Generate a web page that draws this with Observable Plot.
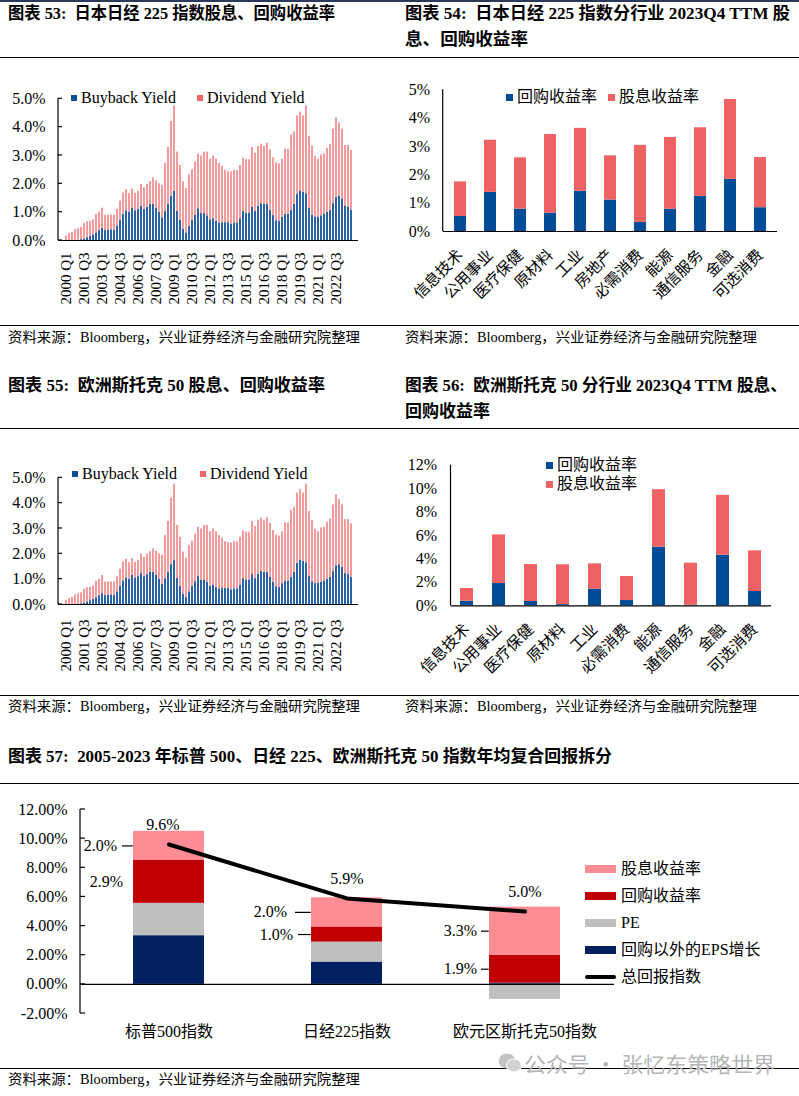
<!DOCTYPE html>
<html lang="zh-CN">
<head>
<meta charset="utf-8">
<script src="https://cdn.jsdelivr.net/npm/d3@7"></script>
<script src="https://cdn.jsdelivr.net/npm/@observablehq/plot@0.6"></script>
<style>
html,body{margin:0;padding:0;background:#fff;}
#page{position:relative;width:799px;height:1096px;overflow:hidden;background:#fff;color:#000;font-family:'Liberation Serif','Noto Sans CJK SC',serif;}
.t{position:absolute;white-space:nowrap;transform-origin:0 50%;}
.title{font-weight:bold;font-size:17px;line-height:22px;height:22px;}
.src{font-size:14px;line-height:18px;height:18px;}
.hr{position:absolute;left:0;width:799px;height:1.5px;background:#000;}
.chart{position:absolute;}
.lg{position:absolute;white-space:nowrap;font-size:16px;line-height:18px;height:18px;display:flex;align-items:center;}
.sq{display:inline-block;width:6px;height:6px;margin-right:4px;}
.bar{display:inline-block;width:31px;height:8px;margin-right:5px;}
</style>
</head>
<body>
<div id="page">
  <div style="position:absolute;left:0;top:0;width:799px;height:1.5px;background:#2b3a5a"></div>

  <div class="t title" style="left:8px;top:3px" data-w="327">图表 53:&nbsp; 日本日经 225 指数股息、回购收益率</div>
  <div class="t title" style="left:405px;top:3px" data-w="385">图表 54:&nbsp; 日本日经 225 指数分行业 2023Q4 TTM 股</div>
  <div class="t title" style="left:405px;top:29px" data-w="123">息、回购收益率</div>
  <div class="hr" style="top:56.5px"></div>

  <div class="chart" id="c53" style="left:0;top:57px"></div>
  <div class="chart" id="c54" style="left:400px;top:57px"></div>

  <div class="lg" style="left:71px;top:89px"><span class="sq" style="background:#0a4f9a"></span>Buyback Yield</div>
  <div class="lg" style="left:197px;top:89px"><span class="sq" style="background:#f06464"></span>Dividend Yield</div>
  <div class="lg" style="left:506px;top:88px"><span class="sq" style="width:7px;height:7px;background:#004c97"></span>回购收益率</div>
  <div class="lg" style="left:608px;top:88px"><span class="sq" style="width:7px;height:7px;background:#ef6264"></span>股息收益率</div>

  <div class="hr" style="top:324.5px"></div>
  <div class="t src" style="left:8px;top:329px" data-w="352">资料来源：Bloomberg，兴业证券经济与金融研究院整理</div>
  <div class="t src" style="left:405px;top:329px" data-w="352">资料来源：Bloomberg，兴业证券经济与金融研究院整理</div>

  <div class="t title" style="left:8px;top:375px" data-w="317">图表 55:&nbsp; 欧洲斯托克 50 股息、回购收益率</div>
  <div class="t title" style="left:405px;top:375px" data-w="382">图表 56:&nbsp; 欧洲斯托克 50 分行业 2023Q4 TTM 股息、</div>
  <div class="t title" style="left:405px;top:401px" data-w="85">回购收益率</div>
  <div class="hr" style="top:427.5px"></div>

  <div class="chart" id="c55" style="left:0;top:428px"></div>
  <div class="chart" id="c56" style="left:400px;top:428px"></div>

  <div class="lg" style="left:72px;top:465px"><span class="sq" style="background:#0a4f9a"></span>Buyback Yield</div>
  <div class="lg" style="left:200px;top:465px"><span class="sq" style="background:#f06464"></span>Dividend Yield</div>
  <div class="lg" style="left:546px;top:456px"><span class="sq" style="width:7px;height:7px;background:#004c97"></span>回购收益率</div>
  <div class="lg" style="left:546px;top:475px"><span class="sq" style="width:7px;height:7px;background:#ef6264"></span>股息收益率</div>

  <div class="hr" style="top:694.5px"></div>
  <div class="t src" style="left:8px;top:698px" data-w="352">资料来源：Bloomberg，兴业证券经济与金融研究院整理</div>
  <div class="t src" style="left:405px;top:698px" data-w="352">资料来源：Bloomberg，兴业证券经济与金融研究院整理</div>

  <div class="t title" style="left:8px;top:746px" data-w="604">图表 57:&nbsp; 2005-2023 年标普 500、日经 225、欧洲斯托克 50 指数年均复合回报拆分</div>
  <div class="hr" style="top:782.5px"></div>

  <div class="chart" id="c57" style="left:0;top:783px"></div>

  <div class="lg" style="left:585px;top:860px"><span class="bar" style="background:#ff8c94"></span>股息收益率</div>
  <div class="lg" style="left:585px;top:887px"><span class="bar" style="background:#c00000"></span>回购收益率</div>
  <div class="lg" style="left:585px;top:914px"><span class="bar" style="background:#bfbfbf"></span>PE</div>
  <div class="lg" style="left:585px;top:941px"><span class="bar" style="background:#002060"></span>回购以外的EPS增长</div>
  <div class="lg" style="left:585px;top:968px"><span class="bar" style="height:4px;background:#000;border-radius:2px"></span>总回报指数</div>

  <div class="hr" style="top:1067.5px"></div>
  <svg style="position:absolute;left:498px;top:1052px" width="24" height="22" viewBox="0 0 24 22">
    <ellipse cx="9" cy="9" rx="8.5" ry="7.5" fill="#c4c4c4"/>
    <ellipse cx="16" cy="13.5" rx="7.5" ry="6.5" fill="#d2d2d2" stroke="#fff" stroke-width="1"/>
  </svg>
  <div class="t" style="left:524px;top:1050px;font-family:'Noto Sans CJK SC',sans-serif;font-size:21px;line-height:26px;color:#b5b5b5" data-w="251">公众号 · 张忆东策略世界</div>
  <div class="t src" style="left:8px;top:1071px" data-w="352">资料来源：Bloomberg，兴业证券经济与金融研究院整理</div>
</div>

<script>
const SERIF = "'Liberation Serif','Noto Sans CJK SC',serif";

// ---------------- data ----------------
// quarterly categories 2000 Q1 .. 2023 Q4
const quarters = [];
for (let y = 2000; y <= 2023; y++) for (let q = 1; q <= 4; q++) quarters.push(`${y} Q${q}`);
const quarterTicks = ["2000 Q1","2001 Q3","2003 Q1","2004 Q3","2006 Q1","2007 Q3","2009 Q1","2010 Q3",
  "2012 Q1","2013 Q3","2015 Q1","2016 Q3","2018 Q1","2019 Q3","2021 Q1","2022 Q3"];

// 图表53 日经225 回购收益率 / 股息收益率 (%)
const nikkeiBuyback = [0,0,0,0,0.02,0.03,0.05,0.10,0.15,0.20,0.27,0.35,0.43,0.35,0.37,0.38,
  0.37,0.50,0.72,0.93,1.05,1.00,1.15,1.05,1.10,1.22,1.10,1.18,1.28,1.27,1.15,1.00,
  0.80,1.02,1.27,1.57,1.73,1.03,0.72,0.40,0.27,0.50,0.72,0.90,1.12,0.95,0.95,0.87,
  0.73,0.77,0.68,0.62,0.63,0.63,0.63,0.58,0.62,0.62,0.77,1.02,0.97,0.97,1.18,1.02,
  1.20,1.30,1.27,1.27,1.07,0.88,0.70,0.68,0.82,0.93,0.93,1.07,1.27,1.62,1.75,1.70,
  1.65,1.13,0.90,0.83,0.83,0.87,0.93,1.00,1.07,1.30,1.53,1.57,1.47,1.22,1.18,1.07];
const nikkeiDividend = [0.16,0.24,0.28,0.38,0.40,0.43,0.55,0.56,0.53,0.53,0.65,0.65,0.71,0.54,0.52,0.52,
  0.52,0.60,0.67,0.75,0.74,0.66,0.66,0.62,0.63,0.76,0.76,0.80,0.80,0.93,0.95,1.00,
  1.15,1.71,2.01,2.63,3.02,2.09,1.93,1.67,1.56,1.82,1.78,1.87,1.93,2.03,2.17,2.25,
  2.14,2.21,2.19,2.10,1.99,1.85,1.80,1.84,1.86,1.85,1.88,1.88,1.88,1.88,2.10,2.06,
  2.12,2.10,2.05,2.16,2.13,2.04,2.03,2.02,2.05,2.29,2.29,2.65,2.56,2.78,2.78,2.70,
  3.10,2.54,2.43,2.14,2.04,2.15,2.12,2.25,2.31,2.63,2.79,2.58,2.46,2.13,2.17,2.11];

// 图表55 欧洲斯托克50 (the reference shows the same series as 图表53)
const stoxxBuyback = nikkeiBuyback.slice();
const stoxxDividend = nikkeiDividend.slice();

// 图表54 日经225 分行业
const sectors54 = ["信息技术","公用事业","医疗保健","原材料","工业","房地产","必需消费","能源","通信服务","金融","可选消费"];
const buyback54 = [0.53,1.38,0.79,0.65,1.42,1.11,0.32,0.79,1.24,1.84,0.84];
const dividend54 = [1.22,1.84,1.81,2.77,2.22,1.56,2.72,2.53,2.42,2.82,1.77];

// 图表56 欧洲斯托克50 分行业
const sectors56 = ["信息技术","公用事业","医疗保健","原材料","工业","必需消费","能源","通信服务","金融","可选消费"];
const buyback56 = [0.40,1.90,0.37,0.10,1.42,0.45,5.00,0.05,4.32,1.22];
const dividend56 = [1.08,4.15,3.15,3.40,2.16,2.05,4.91,3.59,5.11,3.47];

// 图表57 年均复合回报拆分
const indices57 = ["标普500指数","日经225指数","欧元区斯托克50指数"];
const series57 = ["回购以外的EPS增长","PE","回购收益率","股息收益率"];
const eps57 = [3.34,1.53,0.08];
const pe57 = [2.22,1.37,-1.03];
const buyback57 = [2.94,1.04,1.92];
const dividend57 = [2.00,2.00,3.30];
const total57 = [9.6,5.9,5.0];

// ---------------- helpers ----------------
function yAxisLine(ticks, inward) {
  return (index, scales, values, dims) => {
    const g = d3.create("svg:g").attr("stroke", "#000").attr("stroke-width", 1.2).attr("fill", "none");
    const x0 = dims.marginLeft;
    g.append("line").attr("x1", x0).attr("x2", x0)
      .attr("y1", dims.marginTop).attr("y2", dims.height - dims.marginBottom);
    if (inward) for (const t of ticks) {
      const y = scales.y(t);
      g.append("line").attr("x1", x0).attr("x2", x0 + inward).attr("y1", y).attr("y2", y);
    }
    return g.node();
  };
}
const baseStyle = {fontFamily: SERIF, fontSize: "16px", color: "#000", background: "transparent", overflow: "visible"};

function quarterlyChart(buyback, dividend, o) {
  const rows = [];
  quarters.forEach((q, i) => rows.push({q, s: "Buyback Yield", v: buyback[i]}));
  quarters.forEach((q, i) => rows.push({q, s: "Dividend Yield", v: dividend[i]}));
  const yt = [0, 1, 2, 3, 4, 5];
  return Plot.plot({
    width: 400, height: o.height, marginLeft: 58, marginRight: 42, marginTop: o.marginTop, marginBottom: o.marginBottom,
    style: baseStyle,
    x: {domain: quarters, paddingInner: 0.35, paddingOuter: 0.175},
    y: {domain: [0, 5]},
    color: {domain: ["Buyback Yield", "Dividend Yield"], range: ["#2a62a5", "#f39a9a"]},
    marks: [
      Plot.barY(rows, {x: "q", y: "v", fill: "s"}),
      Plot.ruleY([0], {stroke: "#000", strokeWidth: 1.2}),
      yAxisLine(yt, 4),
      Plot.axisY({ticks: yt, tickFormat: d => d.toFixed(1) + "%", tickSize: 0, tickPadding: 13, fontSize: 16, label: null}),
      Plot.axisX({ticks: quarterTicks, tickRotate: -90, tickSize: 0, tickPadding: o.tickPadding, fontSize: 15, label: null})
    ]
  });
}

function sectorChart(cats, buyback, dividend, o) {
  const rows = [];
  cats.forEach((c, i) => rows.push({c, s: "回购收益率", v: buyback[i]}));
  cats.forEach((c, i) => rows.push({c, s: "股息收益率", v: dividend[i]}));
  return Plot.plot({
    width: 399, height: o.height, marginLeft: o.marginLeft, marginRight: o.marginRight,
    marginTop: o.marginTop, marginBottom: o.marginBottom,
    style: baseStyle,
    x: {domain: cats, paddingInner: 0.6, paddingOuter: 0.3},
    y: {domain: [0, o.yMax]},
    color: {domain: ["回购收益率", "股息收益率"], range: ["#004c97", "#ef6264"]},
    marks: [
      Plot.barY(rows, {x: "c", y: "v", fill: "s"}),
      Plot.ruleY([0], {stroke: "#000", strokeWidth: 1.2}),
      yAxisLine(o.yTicks, 0),
      Plot.axisY({ticks: o.yTicks, tickFormat: d => d + "%", tickSize: 0, tickPadding: o.yPad, fontSize: 16, label: null}),
      Plot.axisX({tickRotate: -45, tickSize: 0, tickPadding: o.xPad, fontSize: 15.5, label: null})
    ]
  });
}

// ---------------- charts ----------------
document.getElementById("c53").append(quarterlyChart(nikkeiBuyback, nikkeiDividend,
  {height: 268, marginTop: 41.3, marginBottom: 85, tickPadding: 12}));
document.getElementById("c55").append(quarterlyChart(stoxxBuyback, stoxxDividend,
  {height: 267, marginTop: 49.3, marginBottom: 91, tickPadding: 15}));
document.getElementById("c54").append(sectorChart(sectors54, buyback54, dividend54,
  {height: 268, marginLeft: 42.7, marginRight: 22, marginTop: 32.3, marginBottom: 94,
   yMax: 5, yTicks: [0, 1, 2, 3, 4, 5], yPad: 13, xPad: 21}));
document.getElementById("c56").append(sectorChart(sectors56, buyback56, dividend56,
  {height: 267, marginLeft: 50.5, marginRight: 28, marginTop: 36.7, marginBottom: 89.7,
   yMax: 12, yTicks: [0, 2, 4, 6, 8, 10, 12], yPad: 14, xPad: 21}));

// chart 57
{
  const rows = [];
  const vals = [eps57, pe57, buyback57, dividend57];
  series57.forEach((s, k) => indices57.forEach((idx, i) => rows.push({idx, s, v: vals[k][i]})));
  const totals = indices57.map((idx, i) => ({idx, v: total57[i]}));
  const yt = [-2, 0, 2, 4, 6, 8, 10, 12];
  const W = 799, ML = 80, MR = 185;
  const BW = (W - ML - MR) / indices57.length * 0.4;
  // data labels placed left of the bars: [index, series, text dx, leader length]
  const labelSpecs = [
    [0, "股息收益率", -52, 11], [0, "回购收益率", -46, 0],
    [1, "股息收益率", -60, 16], [1, "回购收益率", -54, 13],
    [2, "股息收益率", -48, 8],  [2, "回购收益率", -48, 8]
  ];
  const fmt = v => v.toFixed(1) + "%";
  const labelMarks = [];
  for (const [i, s, dx, len] of labelSpecs) {
    const match = d => d.idx === indices57[i] && d.s === s;
    labelMarks.push(Plot.text(rows, Plot.stackY({x: "idx", y: "v",
      text: d => match(d) ? fmt(d.v) : null, dx, textAnchor: "end", fontSize: 16})));
    if (len) labelMarks.push(Plot.tickY(rows, Plot.stackY({x: "idx", y: "v",
      stroke: d => match(d) ? "#000" : "none", strokeWidth: 1.2, insetRight: BW - len, dx: -len})));
  }
  const chart = Plot.plot({
    width: W, height: 284, marginLeft: ML, marginRight: MR, marginTop: 26, marginBottom: 54,
    style: baseStyle,
    x: {domain: indices57, paddingInner: 0.6, paddingOuter: 0.3},
    y: {domain: [-2, 12]},
    color: {domain: series57, range: ["#002060", "#bfbfbf", "#c00000", "#ff8c94"]},
    marks: [
      Plot.barY(rows, {x: "idx", y: "v", fill: "s"}),
      Plot.ruleY([0], {stroke: "#000", strokeWidth: 1.2}),
      yAxisLine(yt, 5),
      Plot.axisY({ticks: yt, tickFormat: d => d.toFixed(2) + "%", tickSize: 0, tickPadding: 13, fontSize: 16, label: null}),
      Plot.axisX({tickSize: 0, tickPadding: 12, fontSize: 16, label: null}),
      Plot.line(totals, {x: "idx", y: "v", stroke: "#000", strokeWidth: 4}),
      Plot.text(totals, {x: "idx", y: "v", text: d => d.idx === indices57[0] ? fmt(d.v) : null, dy: -20, dx: -6, fontSize: 16}),
      Plot.text(totals, {x: "idx", y: "v", text: d => d.idx !== indices57[0] ? fmt(d.v) : null, dy: -20, fontSize: 16}),
      ...labelMarks
    ]
  });
  document.getElementById("c57").append(chart);
}

// fit text boxes to the widths measured on the reference
function fit() {
  document.querySelectorAll("[data-w]").forEach(el => {
    el.style.transform = "none";
    const w = el.getBoundingClientRect().width;
    if (w > 0) el.style.transform = `scaleX(${(+el.dataset.w / w).toFixed(4)})`;
  });
}
fit();
if (document.fonts && document.fonts.ready) document.fonts.ready.then(fit);
</script>
</body>
</html>
